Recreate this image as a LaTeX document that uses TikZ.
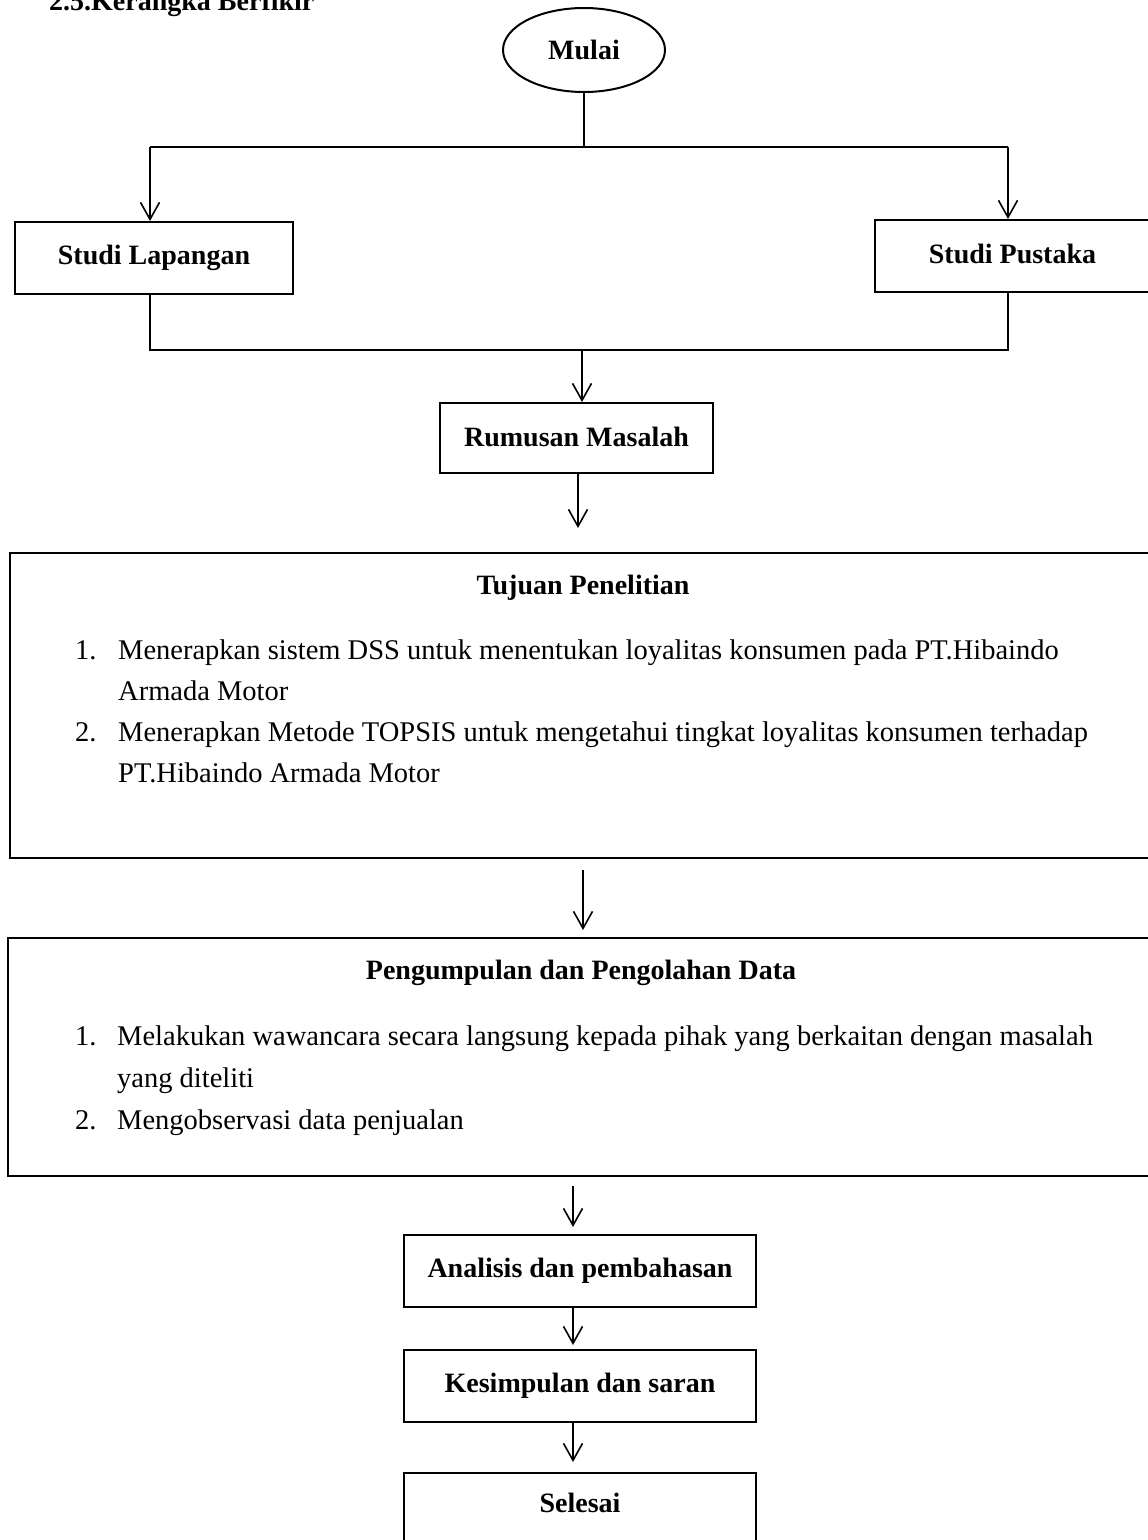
\documentclass[tikz,border=0pt]{standalone}
\usepackage{fontspec}
\setmainfont{Liberation Serif}
\usetikzlibrary{arrows.meta,shapes.geometric}
\begin{document}
\begin{tikzpicture}[x=1pt,y=-1pt,
  box/.style={draw,line width=2pt,inner sep=0pt},
  lbl/.style={font=\fontsize{28}{34}\selectfont\bfseries},
  itm/.style={font=\fontsize{28.5}{41}\selectfont, anchor=base west, inner sep=0pt},
  arr/.style={line width=2pt,-{Straight Barb[length=17pt,width=19pt,line width=1.6pt]}},
  ln/.style={line width=2pt}]
\useasboundingbox (0,0) rectangle (1148,1540);
\clip (0,0) rectangle (1148,1540);
\fill[white] (0,0) rectangle (1148,1540);

% header
\node[lbl, anchor=base west, inner sep=0pt] (hdr) at (49,10) {2.5.Kerangka Berfikir};

% start
\node[ellipse, draw, line width=2pt, minimum width=162pt, minimum height=84pt, lbl] (mulai) at (584,50) {Mulai};

% boxes
\node[box, lbl, minimum width=278pt, minimum height=72pt] (lap) at (154,258) {\raisebox{4pt}{Studi Lapangan}};
\node[box, lbl, minimum width=285pt, minimum height=72pt] (pus) at (1017.5,256) {\hspace*{-10pt}\raisebox{4pt}{Studi Pustaka}};
\node[box, lbl, minimum width=273pt, minimum height=70pt] (rum) at (576.5,438) {\raisebox{3pt}{Rumusan Masalah}};

\node[box, minimum width=1150pt, minimum height=305pt] (tuj) at (585,705.5) {};
\node[lbl, anchor=base] (tujt) at (583,594) {Tujuan Penelitian};
\node[itm] (t1n) at (75,659) {1.};
\node[itm] (t1a) at (118,659) {Menerapkan sistem DSS untuk menentukan loyalitas konsumen pada PT.Hibaindo};
\node[itm] (t1b) at (118,700) {Armada Motor};
\node[itm] (t2n) at (75,741) {2.};
\node[itm] (t2a) at (118,741) {Menerapkan Metode TOPSIS untuk mengetahui tingkat loyalitas konsumen terhadap};
\node[itm] (t2b) at (118,782) {PT.Hibaindo Armada Motor};

\node[box, minimum width=1152pt, minimum height=238pt] (pen) at (584,1057) {};
\node[lbl, anchor=base] (pent) at (581,979) {Pengumpulan dan Pengolahan Data};
\node[itm] (p1n) at (75,1045) {1.};
\node[itm] (p1a) at (117,1045) {Melakukan wawancara secara langsung kepada pihak yang berkaitan dengan masalah};
\node[itm] (p1b) at (117,1087) {yang diteliti};
\node[itm] (p2n) at (75,1129) {2.};
\node[itm] (p2a) at (117,1129) {Mengobservasi data penjualan};

\node[box, lbl, minimum width=352pt, minimum height=72pt] (ana) at (580,1271) {\raisebox{3pt}{Analisis dan pembahasan}};
\node[box, lbl, minimum width=352pt, minimum height=72pt] (kes) at (580,1386) {\raisebox{3pt}{Kesimpulan dan saran}};
\node[box, lbl, minimum width=352pt, inner ysep=0pt, text height=39pt, text depth=60pt, anchor=north] (sel) at (580,1472) {Selesai};

% connectors
\coordinate (s) at (584,147);
\coordinate (sl) at (150,147);
\coordinate (sr) at (1008,147);
\draw[ln] (mulai.south) -- (s);
\draw[ln] (sl) -- (sr);
\draw[arr] (sl) -- (sl |- lap.north);
\draw[arr] (sr) -- (sr |- pus.north);

\coordinate (ml) at (150,350);
\coordinate (mr) at (1008,350);
\coordinate (m) at (582,350);
\draw[ln] (sl |- lap.south) -- (ml) -- (mr) -- (mr |- pus.south);
\draw[arr] (m) -- (m |- rum.north);

\coordinate (a1) at (578,528);
\draw[arr] (a1 |- rum.south) -- (a1);

\coordinate (b0) at (583,870);
\coordinate (b1) at (583,930);
\draw[arr] (b0) -- (b1);

\coordinate (c0) at (573,1186);
\draw[arr, shorten >=7pt] (c0) -- (c0 |- ana.north);
\coordinate (d0) at (573,1307);
\draw[arr, shorten >=4pt] (d0 |- ana.south) -- (d0 |- kes.north);
\draw[arr, shorten >=10pt] (d0 |- kes.south) -- (d0 |- sel.north);
\end{tikzpicture}
\end{document}
